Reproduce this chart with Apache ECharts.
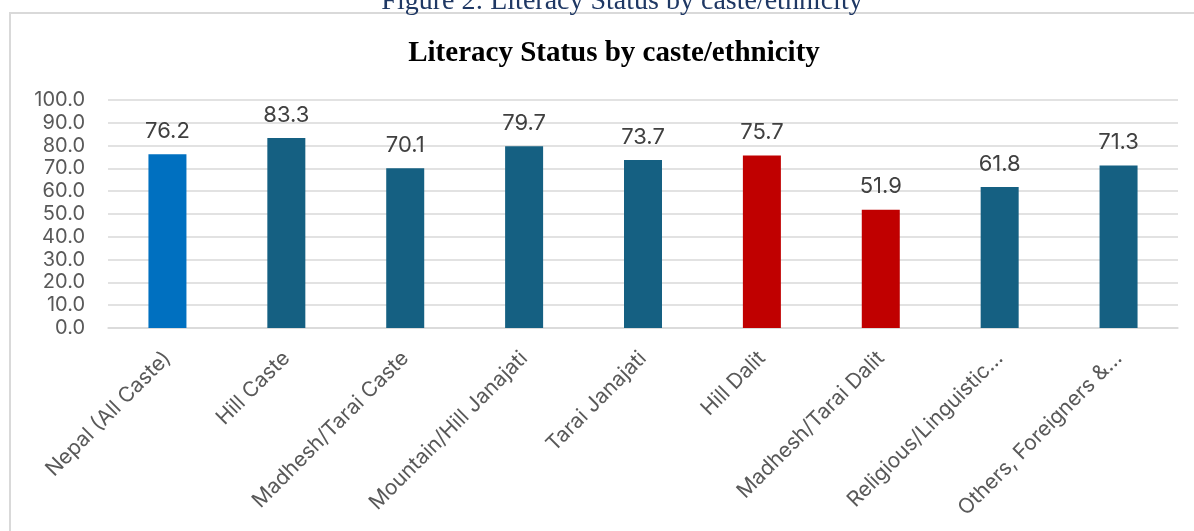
<!DOCTYPE html>
<html>
<head>
<meta charset="utf-8">
<script src="https://cdn.jsdelivr.net/npm/echarts@6/dist/echarts.min.js"></script>
<style>
  html, body { margin: 0; padding: 0; background: #fff; }
  #chart { width: 1194px; height: 531px; }
</style>
</head>
<body>
<div id="chart"></div>
<script>
const categories = [
  "Nepal (All Caste)", "Hill Caste", "Madhesh/Tarai Caste", "Mountain/Hill Janajati",
  "Tarai Janajati", "Hill Dalit", "Madhesh/Tarai Dalit", "Religious/Linguistic…", "Others, Foreigners &…"
];
const literacy = [76.2, 83.3, 70.1, 79.7, 73.7, 75.7, 51.9, 61.8, 71.3];
const barColors = ["#0070C0", "#156082", "#156082", "#156082", "#156082", "#C00000", "#C00000", "#156082", "#156082"];
const yTicks = { min: 0, max: 100, interval: 10 };

const chart = echarts.init(document.getElementById("chart"));
const option = {
  backgroundColor: "#fff",
  animation: false,
  title: [
    {
      // figure caption, cut at the top of the picture
      text: "Figure 2: Literacy Status by caste/ethnicity",
      left: 617,
      textAlign: "center",
      top: -17,
      textStyle: { fontFamily: "Liberation Serif", fontWeight: "normal", fontSize: 28, color: "#1F3864" }
    },
    {
      text: "Literacy Status by caste/ethnicity",
      left: 609,
      textAlign: "center",
      top: 34,
      textStyle: { fontFamily: "Liberation Serif", fontWeight: "bold", fontSize: 29, color: "#000" }
    }
  ],
  graphic: [
    {
      type: "rect",
      shape: { x: 10, y: 13, width: 1200, height: 600 },
      style: { fill: "none", stroke: "#D9D9D9", lineWidth: 2 },
      silent: true
    }
  ],
  grid: { left: 108, right: 16, top: 100, bottom: 203, containLabel: false },
  xAxis: {
    type: "category",
    data: categories,
    axisTick: { show: false },
    axisLine: { show: true, lineStyle: { color: "#D9D9D9", width: 1.5 } },
    axisLabel: {
      rotate: 45,
      interval: 0,
      margin: 27,
      fontFamily: "Inter",
      fontSize: 21,
      color: "#595959"
    }
  },
  yAxis: {
    type: "value",
    min: yTicks.min,
    max: yTicks.max,
    interval: yTicks.interval,
    axisLine: { show: false },
    axisTick: { show: false },
    splitLine: { lineStyle: { color: "#D9D9D9", width: 1.5 } },
    axisLabel: {
      margin: 23,
      fontFamily: "Inter",
      fontSize: 20,
      color: "#595959",
      formatter: v => v.toFixed(1)
    }
  },
  series: [
    {
      type: "bar",
      data: literacy.map((v, i) => ({ value: v, itemStyle: { color: barColors[i] } })),
      barWidth: 38,
      label: {
        show: true,
        position: "top",
        distance: 12,
        fontFamily: "Inter",
        fontSize: 22,
        color: "#404040",
        formatter: p => p.value.toFixed(1)
      }
    }
  ]
};
chart.setOption(option);
</script>
</body>
</html>
